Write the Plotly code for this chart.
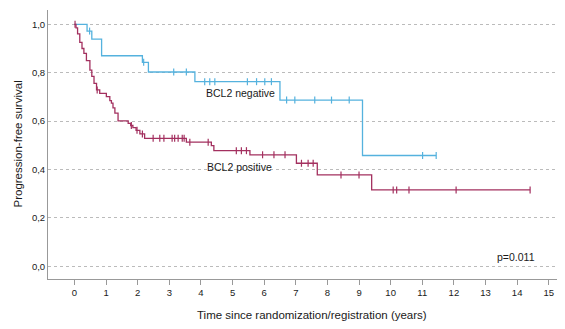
import plotly.graph_objects as go

# ---- data ----
neg_event_t = [0.40, 0.55, 0.86, 2.15, 2.34, 3.81, 6.50, 9.11]
neg_event_s = [0.972, 0.939, 0.870, 0.843, 0.803, 0.763, 0.687, 0.458]
neg_censor_t = [0.48, 2.19, 3.14, 3.54, 4.12, 4.28, 4.44, 5.47, 5.76, 6.02, 6.23,
                6.71, 6.97, 7.60, 8.13, 8.69, 11.01, 11.44]
neg_end = 11.44

pos_event_t = [0.05, 0.10, 0.17, 0.24, 0.30, 0.38, 0.49, 0.55, 0.62, 0.70, 0.80,
               1.01, 1.12, 1.17, 1.22, 1.28, 1.38, 1.70, 1.78, 1.85, 1.95, 2.07,
               2.22, 3.54, 4.33, 4.41, 5.55, 7.02, 7.68, 9.40]
pos_event_s = [0.985, 0.960, 0.925, 0.900, 0.880, 0.850, 0.811, 0.785, 0.756, 0.729, 0.715,
               0.701, 0.685, 0.674, 0.655, 0.633, 0.601, 0.591, 0.582, 0.573, 0.562, 0.547,
               0.529, 0.513, 0.499, 0.478, 0.461, 0.426, 0.378, 0.316]
pos_censor_t = [0.02, 0.72, 1.80, 1.98, 2.15, 2.49, 2.70, 2.83, 3.09, 3.17, 3.28, 3.41,
                3.47, 3.65, 4.23, 5.12, 5.28, 5.44, 5.95, 6.31, 6.66, 7.18, 7.39, 7.55,
                8.43, 9.00, 10.08, 10.19, 10.58, 12.07, 14.41]
pos_end = 14.41

y_ticks = [0.0, 0.2, 0.4, 0.6, 0.8, 1.0]
y_tick_labels = ["0,0", "0,2", "0,4", "0,6", "0,8", "1,0"]
x_ticks = list(range(0, 16))

BLUE = "#55B2DE"
RED = "#A3305F"


def step_xy(ev_t, ev_s, end):
    xs = [0.0] + list(ev_t) + [end]
    ys = [1.0] + list(ev_s) + [ev_s[-1]]
    return xs, ys


def surv_at(t, ev_t, ev_s):
    s = 1.0
    for et, es in zip(ev_t, ev_s):
        if et <= t:
            s = es
    return s


fig = go.Figure()
for ev_t, ev_s, cen, end, col in [
    (neg_event_t, neg_event_s, neg_censor_t, neg_end, BLUE),
    (pos_event_t, pos_event_s, pos_censor_t, pos_end, RED),
]:
    xs, ys = step_xy(ev_t, ev_s, end)
    fig.add_trace(go.Scatter(x=xs, y=ys, mode="lines", line=dict(color=col, width=1.3, shape="hv"),
                             showlegend=False, hoverinfo="skip"))
    fig.add_trace(go.Scatter(x=cen, y=[surv_at(t, ev_t, ev_s) for t in cen], mode="markers",
                             marker=dict(symbol="line-ns", size=5, line=dict(color=col, width=1.2)),
                             showlegend=False, hoverinfo="skip"))

font = "Liberation Sans, Arial, sans-serif"
TXT = "#1a1a1a"
fig.add_annotation(x=5.26, y=0.715, text="BCL2 negative", showarrow=False,
                   font=dict(family=font, size=10.5, color=TXT))
fig.add_annotation(x=5.21, y=0.412, text="BCL2 positive", showarrow=False,
                   font=dict(family=font, size=10.5, color=TXT))
fig.add_annotation(x=13.97, y=0.039, text="p=0.011", showarrow=False,
                   font=dict(family=font, size=10.5, color=TXT))
# axis titles
fig.add_annotation(xref="paper", yref="paper", x=0.512, y=0, yanchor="middle", yshift=-36,
                   text="Time since randomization/registration (years)", showarrow=False,
                   font=dict(family=font, size=11.5, color=TXT))
fig.add_annotation(xref="paper", yref="paper", x=0, y=0.5, xanchor="center", xshift=-31,
                   textangle=-90, text="Progression-free survival", showarrow=False,
                   font=dict(family=font, size=11.5, color=TXT))

# page body has an 8px default margin, so the figure is sized to fit the window
fig.update_layout(
    width=557, height=321,
    margin=dict(l=40, r=2, t=2, b=50, autoexpand=False),
    paper_bgcolor="white", plot_bgcolor="white",
    font=dict(family=font, size=9.5, color=TXT),
)
fig.update_xaxes(
    range=[-0.835, 15.45], tickvals=x_ticks, ticktext=[str(v) for v in x_ticks],
    showgrid=False, zeroline=False, showline=True, linecolor="#999", linewidth=1,
    ticks="outside", ticklen=5, tickcolor="#999", automargin=False,
)
fig.update_yaxes(
    range=[-0.052, 1.059], tickvals=y_ticks, ticktext=y_tick_labels,
    showgrid=True, gridcolor="#BBBBBB", griddash="dot", gridwidth=1,
    zeroline=False, showline=True, linecolor="#999", linewidth=1,
    ticks="", automargin=False,
)

fig.write_html("out.html")
